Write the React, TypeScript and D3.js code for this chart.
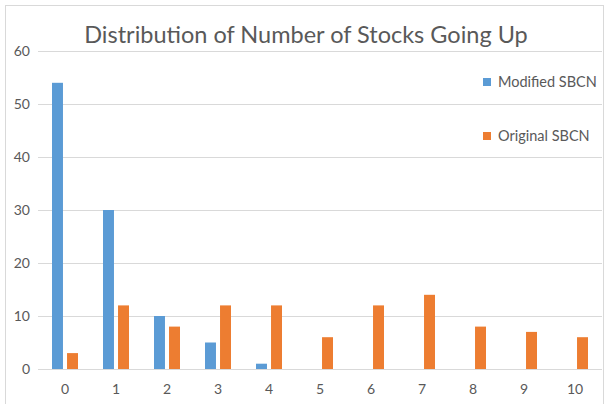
import React from "react";
import * as d3 from "d3";

const categories = ["0", "1", "2", "3", "4", "5", "6", "7", "8", "9", "10"];
const modifiedSBCN = [54, 30, 10, 5, 1, 0, 0, 0, 0, 0, 0];
const originalSBCN = [3, 12, 8, 12, 12, 6, 12, 14, 8, 7, 6];
const yTicks = [0, 10, 20, 30, 40, 50, 60];
const seriesNames = ["Modified SBCN", "Original SBCN"];
const colors = ["#5b9bd5", "#ed7d31"];

const W = 605;
const H = 404;
const FONT = "Lato, 'Open Sans', sans-serif";

export default function App() {
  const x = d3.scaleBand().domain(categories).range([39.5, 600.5]);
  const y = d3.scaleLinear().domain([0, 60]).range([369, 51]);
  const inner = d3.scaleBand().domain(seriesNames).range([x.bandwidth() / 2 - 13, x.bandwidth() / 2 + 13]).paddingInner(0.27);
  const series = [modifiedSBCN, originalSBCN];

  return (
    <svg width={W} height={H} style={{ position: "absolute", left: 0, top: 0, fontFamily: FONT }}>
      <rect x={0} y={0} width={W} height={H} fill="#fff" />
      <rect x={5.5} y={5.5} width={598} height={410} fill="#fff" stroke="#d9d9d9" />
      <text x={306} y={43} textAnchor="middle" fontSize={23.5} fill="#595959">
        Distribution of Number of Stocks Going Up
      </text>
      {yTicks.map((t) => (
        <g key={t}>
          <line x1={38} x2={602} y1={y(t) + 0.5} y2={y(t) + 0.5} stroke="#d9d9d9" />
          <text x={30} y={y(t)} dy="0.35em" textAnchor="end" fontSize={14} fill="#595959">{t}</text>
        </g>
      ))}
      {series.map((vals, si) => (
        <g key={si}>
          {vals.map((v, i) => (
            v > 0 ? (
              <rect key={i}
                x={(x(categories[i]) as number) + (inner(seriesNames[si]) as number)}
                y={y(v)}
                width={inner.bandwidth()}
                height={y(0) - y(v)}
                fill={colors[si]} />
            ) : null
          ))}
        </g>
      ))}
      {categories.map((c) => (
        <text key={c} x={(x(c) as number) + x.bandwidth() / 2} y={389} dy="0.35em" textAnchor="middle" fontSize={14} fill="#595959">{c}</text>
      ))}
      {seriesNames.map((s, i) => (
        <g key={s} transform={`translate(483, ${82 + i * 54})`}>
          <rect x={0} y={-4} width={8} height={8} fill={colors[i]} />
          <text x={15} y={0} dy="0.35em" fontSize={14.5} fill="#595959">{s}</text>
        </g>
      ))}
    </svg>
  );
}
